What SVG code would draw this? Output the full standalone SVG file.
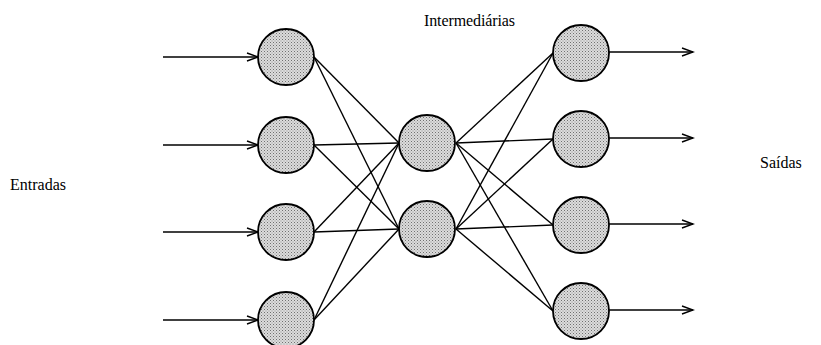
<svg xmlns="http://www.w3.org/2000/svg" width="821" height="345" viewBox="0 0 821 345">
<defs>
<pattern id="dots" width="3" height="3" patternUnits="userSpaceOnUse">
<rect width="3" height="3" fill="#dcdcdc"/>
<rect width="1" height="1" fill="#707070"/>
<rect x="1.5" y="1.5" width="1" height="1" fill="#909090"/>
</pattern>
<marker id="arr" markerWidth="14" markerHeight="10" refX="12" refY="5" orient="auto" markerUnits="userSpaceOnUse">
<path d="M1,1 L12,5 L1,9" fill="none" stroke="#000" stroke-width="1.4"/>
</marker>
</defs>
<style>
.n{fill:url(#dots);stroke:#000;stroke-width:1.8}
.c{stroke:#000;stroke-width:1.4;fill:none}
.a{stroke:#000;stroke-width:1.4;fill:none;marker-end:url(#arr)}
text{font-family:"Liberation Serif","Times New Roman",serif;font-size:16px;fill:#000}
</style>
<g id="connectors">
<line class="a" x1="163" y1="57" x2="258" y2="57"/>
<line class="a" x1="163" y1="145" x2="258" y2="145"/>
<line class="a" x1="163" y1="232" x2="258" y2="232"/>
<line class="a" x1="163" y1="320" x2="258" y2="320"/>
<line class="c" x1="314" y1="57" x2="399" y2="143"/>
<line class="c" x1="314" y1="57" x2="399" y2="229"/>
<line class="c" x1="314" y1="145" x2="399" y2="143"/>
<line class="c" x1="314" y1="145" x2="399" y2="229"/>
<line class="c" x1="314" y1="232" x2="399" y2="143"/>
<line class="c" x1="314" y1="232" x2="399" y2="229"/>
<line class="c" x1="314" y1="320" x2="399" y2="143"/>
<line class="c" x1="314" y1="320" x2="399" y2="229"/>
<line class="c" x1="456" y1="143" x2="553" y2="53"/>
<line class="c" x1="456" y1="143" x2="553" y2="139"/>
<line class="c" x1="456" y1="143" x2="553" y2="225"/>
<line class="c" x1="456" y1="143" x2="553" y2="311"/>
<line class="c" x1="456" y1="229" x2="553" y2="53"/>
<line class="c" x1="456" y1="229" x2="553" y2="139"/>
<line class="c" x1="456" y1="229" x2="553" y2="225"/>
<line class="c" x1="456" y1="229" x2="553" y2="311"/>
<line class="a" x1="609" y1="52" x2="693" y2="52"/>
<line class="a" x1="609" y1="138" x2="693" y2="138"/>
<line class="a" x1="609" y1="224" x2="693" y2="224"/>
<line class="a" x1="609" y1="310" x2="693" y2="310"/>
</g>
<g id="in1"><circle class="n" cx="286" cy="57" r="28"/></g>
<g id="in2"><circle class="n" cx="286" cy="145" r="28"/></g>
<g id="in3"><circle class="n" cx="286" cy="232" r="28"/></g>
<g id="in4"><circle class="n" cx="286" cy="320" r="28"/></g>
<g id="mid1"><circle class="n" cx="427" cy="143" r="28"/></g>
<g id="mid2"><circle class="n" cx="427" cy="229" r="28"/></g>
<g id="out1"><circle class="n" cx="581" cy="53" r="28"/></g>
<g id="out2"><circle class="n" cx="581" cy="139" r="28"/></g>
<g id="out3"><circle class="n" cx="581" cy="225" r="28"/></g>
<g id="out4"><circle class="n" cx="581" cy="311" r="28"/></g>
<g id="labels">
<text x="424" y="26" textLength="91">Intermediárias</text>
<text x="10" y="190">Entradas</text>
<text x="760" y="168">Saídas</text>
</g>
</svg>
